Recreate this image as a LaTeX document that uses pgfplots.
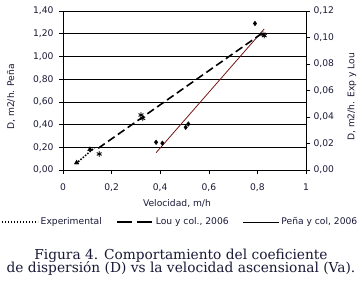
\documentclass[border=0pt]{standalone}
\usepackage{fontspec}
\usepackage{pgfplots}
\pgfplotsset{compat=1.18}
\newfontfamily\chartfont{DejaVu Sans}
\newfontfamily\capfont{DejaVu Serif}
\definecolor{txt}{RGB}{25,25,55}
\definecolor{pena}{RGB}{120,20,20}
\newcommand{\cf}{\chartfont\fontsize{9.2}{11}\selectfont}
\begin{document}
\begin{tikzpicture}[x=1bp,y=1bp]
\useasboundingbox (0,0) rectangle (362,285);
\pgfplotsset{
  common/.style={
    scale only axis, width=243bp, height=159bp,
    at={(63bp,115bp)}, anchor=south west,
    xmin=0, xmax=1,
    /pgf/number format/assume math mode=true,
    /pgf/number format/use comma,
    tick align=outside, major tick length=4bp,
    every tick/.style={black, line width=0.6pt},
    tick label style={font=\cf, color=txt},
    label style={font=\cf, color=txt},
    axis line style={line width=0.6pt},
    clip=false,
  }
}
\begin{axis}[common,
  ymin=0, ymax=1.4, ytick={0,0.2,0.4,0.6,0.8,1,1.2,1.4},
  xtick={0,0.2,0.4,0.6,0.8,1},
  ytick pos=left, xtick pos=bottom,
  ymajorgrids, grid style={black, line width=0.6pt},
  yticklabel style={/pgf/number format/fixed, /pgf/number format/fixed zerofill, /pgf/number format/precision=2, xshift=-2bp},
  xticklabel style={/pgf/number format/fixed, /pgf/number format/precision=1, yshift=-6.5bp},
  xlabel={Velocidad, m/h}, ylabel={D, m2/h. Peña},
  xlabel style={at={(axis description cs:0.469,-0.208)}, anchor=center},
  ylabel style={at={(axis description cs:-0.214,0.46)}, anchor=center},
  legend style={draw=none, fill=none, font=\cf, text=txt, inner sep=0pt,
    at={(axis description cs:-0.255,-0.327)}, anchor=west,
    nodes={inner xsep=2bp},
    /tikz/every even column/.append style={column sep=12bp}},
  legend columns=3,
  legend image code/.code={\draw[#1] (0bp,0bp) -- (36bp,0bp);},
]
\addlegendimage{black, line width=1.5bp, dash pattern=on 1.5bp off 1.5bp}
\addlegendentry{Experimental}
\addlegendimage{black, line width=2bp, dash pattern=on 15bp off 5bp}
\addlegendentry{Lou y col., 2006}
\addlegendimage{black, line width=0.7bp}
\addlegendentry{Peña y col, 2006}
\addplot[only marks, mark=diamond*, mark size=2.3bp, black, forget plot]
  coordinates {(0.383,0.244) (0.409,0.236) (0.505,0.376) (0.516,0.405) (0.790,1.290)};
\addplot[pena, line width=0.8bp, forget plot]
  coordinates {(0.383,0.152) (0.828,1.242)};
\end{axis}
\begin{axis}[common,
  ymin=0, ymax=0.12, ytick={0,0.02,0.04,0.06,0.08,0.10,0.12},
  axis y line*=right, axis x line=none,
  yticklabel style={/pgf/number format/fixed, /pgf/number format/fixed zerofill, /pgf/number format/precision=2},
  ylabel={D, m2/h. Exp y Lou},
  ylabel style={at={(axis description cs:1.189,0.46)}, anchor=center},
]
\addplot[black, line width=1.5bp, dash pattern=on 1.5bp off 1.5bp]
  coordinates {(0.053,0.0048) (0.13,0.0168)};
\addplot[black, line width=1.6bp, dash pattern=on 8bp off 4bp]
  coordinates {(0.145,0.0164) (0.818,0.103)};
\addplot[only marks, mark=triangle*, mark size=2.6bp, black]
  coordinates {(0.056,0.0055) (0.111,0.0156)};
\addplot[only marks, mark=asterisk, mark size=2.8bp, black, line width=0.9bp]
  coordinates {(0.149,0.0121) (0.321,0.0415) (0.328,0.039) (0.823,0.1025) (0.828,0.1014)};
\end{axis}
\node[anchor=base, font=\capfont\fontsize{13.8}{16}\selectfont, text=txt] at (181,26) {Figura 4. Comportamiento del coeficiente};
\node[anchor=base, font=\capfont\fontsize{13.8}{16}\selectfont, text=txt] at (181,12.5) {de dispersión (D) vs la velocidad ascensional (Va).};
\end{tikzpicture}
\end{document}
